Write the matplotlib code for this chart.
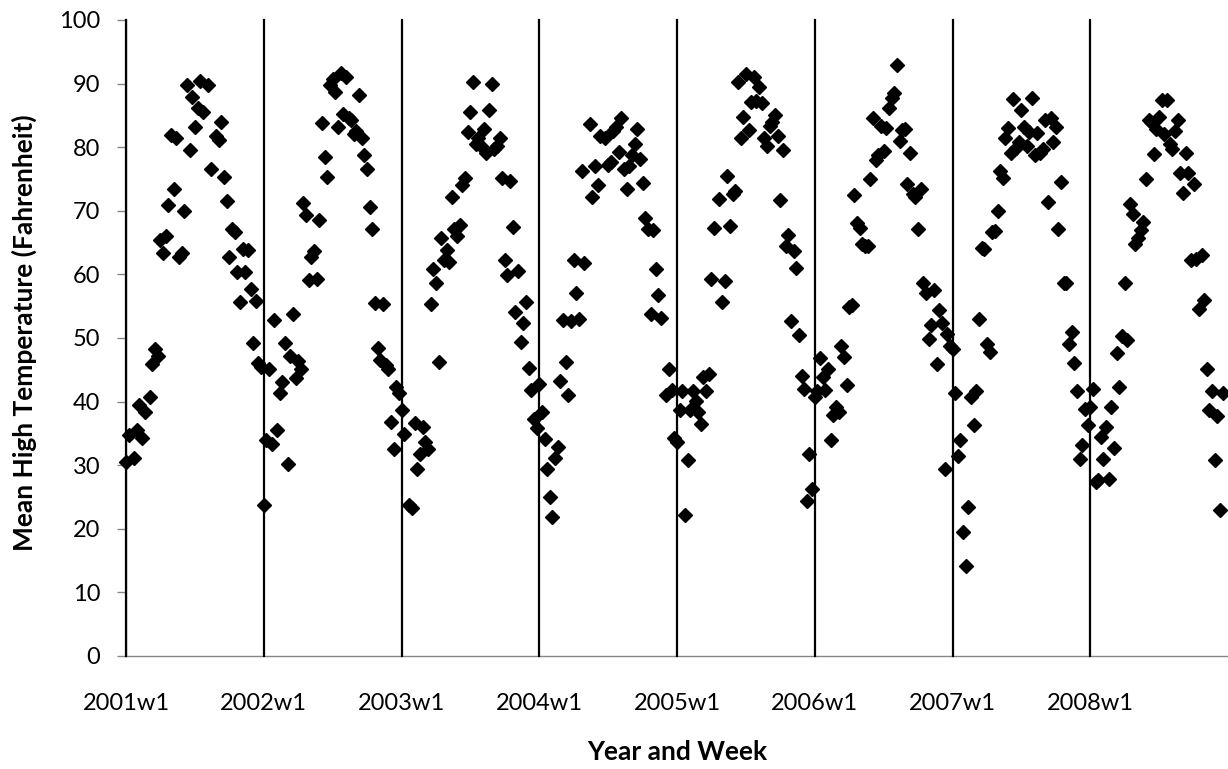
import numpy as np
import matplotlib.pyplot as plt

plt.rcParams['font.family'] = ['Lato', 'DejaVu Sans']

years = [2001, 2002, 2003, 2004, 2005, 2006, 2007, 2008]
year_labels = ['2001w1', '2002w1', '2003w1', '2004w1', '2005w1', '2006w1', '2007w1', '2008w1']

weeks_2001 = [0, 1, 3, 4, 5, 6, 7, 9, 10, 11, 12, 13, 14, 15, 16, 17, 18, 19, 20, 21, 22, 23, 24, 25,
              26, 27, 28, 29, 31, 32, 34, 35, 36, 37, 38, 39, 40, 41, 42, 43, 44, 45, 46, 47, 48, 49, 50, 51]
temps_2001 = [30.5, 34.8, 31.1, 35.5, 39.5, 34.3, 38.4, 40.7, 45.9, 48.3, 47.1, 65.4, 63.3, 66.0, 70.9, 81.9,
              73.5, 81.4, 62.8, 63.3, 70.0, 89.8, 79.5, 87.9, 83.1, 86.2, 90.4, 85.5, 89.8, 76.5, 81.7, 81.1,
              84.0, 75.3, 71.5, 62.7, 67.2, 66.6, 60.3, 55.7, 64.0, 60.3, 63.8, 57.7, 49.2, 55.8, 46.0, 45.5]

weeks_2002 = list(range(52))
temps_2002 = [23.8, 34.0, 45.2, 33.3, 52.9, 35.6, 41.4, 43.1, 49.2, 30.2, 47.2, 53.7, 43.7, 46.4, 45.2, 71.2,
              69.3, 59.1, 62.8, 63.7, 59.3, 68.5, 83.8, 78.5, 75.3, 89.8, 90.7, 88.7, 83.1, 91.7, 85.2, 91.0,
              84.6, 84.2, 82.0, 82.6, 88.2, 81.4, 78.7, 76.5, 70.6, 67.2, 55.5, 48.4, 46.5, 55.4, 45.8, 45.1,
              36.8, 32.6, 42.3, 41.3]

weeks_2003 = [0, 1] + list(range(3, 52))
temps_2003 = [38.7, 34.9, 23.8, 23.2, 36.7, 29.4, 31.7, 36.0, 33.7, 32.6, 55.3, 60.9, 58.7, 46.2, 65.7, 62.2,
              63.8, 61.9, 72.1, 67.2, 66.0, 67.7, 74.1, 75.1, 82.4, 85.6, 90.2, 80.5, 81.5, 80.2, 82.8, 79.1,
              85.8, 89.9, 79.7, 80.2, 81.4, 75.1, 62.2, 59.9, 74.7, 67.4, 54.1, 60.5, 49.4, 52.4, 55.7, 45.3,
              41.9, 37.2, 35.8]

weeks_2004 = list(range(0, 18)) + list(range(19, 24)) + list(range(25, 47)) + [48, 49, 50, 51]
temps_2004 = [42.7, 38.4, 34.1, 29.4, 25.0, 21.8, 31.1, 32.8, 43.3, 52.9, 46.2, 41.1, 52.6, 62.2, 57.1, 53.0,
              76.3, 61.8, 83.6, 72.2, 77.0, 74.0, 81.7, 81.4, 77.2, 77.6, 82.6, 83.1, 79.2, 84.6, 76.5, 73.5,
              77.0, 78.8, 80.5, 82.8, 78.2, 74.4, 68.9, 67.2, 53.8, 67.0, 60.8, 56.7, 53.2, 41.1, 45.2, 41.9,
              34.3]

weeks_2005 = list(range(0, 15)) + list(range(16, 52))
temps_2005 = [33.7, 38.7, 41.7, 22.1, 30.8, 38.7, 41.7, 40.1, 38.4, 36.5, 43.9, 41.7, 44.3, 59.3, 67.3, 71.8,
              55.6, 58.9, 75.4, 67.6, 72.7, 73.1, 90.3, 81.4, 84.8, 91.5, 82.7, 87.1, 91.0, 87.3, 89.5, 86.9,
              81.5, 80.2, 83.4, 84.0, 85.0, 81.8, 71.7, 79.5, 64.4, 66.2, 52.7, 63.7, 61.0, 50.5, 44.0, 42.0,
              24.4, 31.7, 26.3]

weeks_2006 = list(range(52))
temps_2006 = [40.7, 41.6, 46.8, 43.9, 41.9, 45.2, 34.0, 37.9, 39.2, 38.4, 48.8, 47.0, 42.6, 54.9, 55.2, 72.5,
              68.1, 67.3, 64.8, 64.5, 64.4, 75.0, 84.6, 78.0, 78.8, 83.4, 79.4, 83.0, 86.2, 87.8, 88.5, 93.0,
              80.9, 82.7, 82.8, 74.2, 79.1, 72.7, 72.1, 67.2, 73.4, 58.6, 57.0, 49.9, 52.0, 57.6, 45.9, 54.4,
              52.3, 29.4, 50.6, 48.7]

weeks_2007 = list(range(52))
temps_2007 = [48.3, 41.4, 31.4, 34.0, 19.5, 14.1, 23.4, 40.8, 36.3, 41.7, 53.0, 64.1, 64.0, 49.1, 47.8, 66.6,
              66.9, 69.9, 76.2, 75.1, 81.4, 83.0, 79.1, 87.6, 79.9, 80.8, 85.8, 83.1, 80.2, 82.4, 87.8, 78.7,
              82.3, 79.1, 79.7, 84.3, 71.4, 84.6, 80.8, 83.1, 67.2, 74.6, 58.7, 58.7, 49.1, 51.0, 46.0, 41.6,
              31.0, 33.1, 38.8, 36.3]

weeks_2008 = list(range(51))
temps_2008 = [39.2, 42.0, 27.3, 27.6, 34.4, 30.9, 36.0, 27.8, 39.1, 32.7, 47.6, 42.3, 50.3, 58.6, 49.7, 71.1,
              69.5, 64.8, 65.7, 67.0, 68.3, 75.0, 84.3, 83.9, 78.9, 82.8, 84.8, 87.5, 82.0, 87.5, 80.5, 79.7,
              82.6, 84.2, 75.9, 72.8, 79.1, 76.0, 62.2, 74.2, 62.5, 54.5, 63.1, 55.9, 45.2, 38.7, 41.7, 30.8,
              37.8, 23.0, 41.3]

all_weeks = [weeks_2001, weeks_2002, weeks_2003, weeks_2004, weeks_2005, weeks_2006, weeks_2007, weeks_2008]
all_temps = [temps_2001, temps_2002, temps_2003, temps_2004, temps_2005, temps_2006, temps_2007, temps_2008]

W, H = 1228, 769
fig = plt.figure(figsize=(W / 100, H / 100), dpi=100)
ax = fig.add_axes([126 / W, (H - 656) / H, (W - 126) / W, 636 / H])

gray = '#868686'
for i, yr in enumerate(years):
    x = np.array(all_weeks[i]) + i * 52
    ax.plot(x, all_temps[i], linestyle='none', marker='D', ms=7.5, color='black', mec='black',
            zorder=3, clip_on=False)
    # year divider
    ax.axvline(i * 52, color='black', lw=1.6, zorder=2.7, clip_on=False)

ax.set_xlim(0, 416)
ax.set_ylim(0, 100)
ax.set_yticks(np.arange(0, 101, 10))
ax.set_xticks([i * 52 for i in range(len(years))])
ax.set_xticklabels(year_labels)

for s in ['top', 'right']:
    ax.spines[s].set_visible(False)
for s in ['left', 'bottom']:
    ax.spines[s].set_color(gray)
    ax.spines[s].set_linewidth(1.0)

ax.tick_params(axis='y', direction='out', length=6.5, width=1, color=gray, pad=12, labelsize=17)
ax.tick_params(axis='x', length=0, pad=27, labelsize=17)

fig.text(677 / W, 1 - 752 / H, 'Year and Week', ha='center', va='center', fontsize=19, fontweight='bold')
fig.text(24 / W, 1 - 333 / H, 'Mean High Temperature (Fahrenheit)', ha='center', va='center',
         rotation=90, fontsize=19, fontweight='bold')

fig.savefig('out.png', dpi=100)
